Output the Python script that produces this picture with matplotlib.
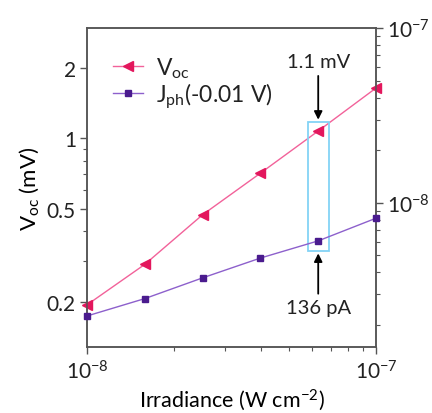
import numpy as np
import matplotlib as mpl
import matplotlib.pyplot as plt
from matplotlib.patches import Rectangle
from matplotlib.ticker import FixedLocator, NullFormatter, LogLocator
mpl.use('Agg')

plt.rcParams['font.family'] = ['Lato', 'DejaVu Sans']
plt.rcParams['mathtext.fontset'] = 'custom'
plt.rcParams['mathtext.rm'] = 'Lato'
plt.rcParams['mathtext.it'] = 'Lato:italic'
plt.rcParams['mathtext.default'] = 'regular'
plt.rcParams['font.size'] = 13
plt.rcParams['text.color'] = '#222222'

# data
irradiance = [1.0e-8, 1.585e-8, 2.512e-8, 3.981e-8, 6.310e-8, 1.0e-7]
voc_mv = [0.194, 0.289, 0.471, 0.709, 1.074, 1.639]
jph = [2.25e-9, 2.83e-9, 3.72e-9, 4.83e-9, 6.06e-9, 8.17e-9]
voc_ticks = [0.2, 0.5, 1, 2]
voc_tick_labels = ['0.2', '0.5', '1', '2']

pink_line = '#f2629a'
pink_mark = '#e3175d'
purple_line = '#8d60cc'
purple_mark = '#4a1b8e'
spine_col = '#555555'

fig = plt.figure(figsize=(4.32, 4.14), dpi=100)
ax = fig.add_axes([0.2014, 0.1601, 0.669, 0.7691])
ax2 = ax.twinx()

l1, = ax.plot(irradiance, voc_mv, color=pink_line, lw=1.0, marker='<',
              ms=7, mfc=pink_mark, mec=pink_mark, clip_on=False, zorder=4)
l2, = ax2.plot(irradiance, jph, color=purple_line, lw=1.0, marker='s',
               ms=5, mfc=purple_mark, mec=purple_mark, clip_on=False, zorder=4)

ax.set_xscale('log')
ax.set_yscale('log')
ax2.set_yscale('log')
ax.set_xlim(1e-8, 1e-7)
ax.set_ylim(0.1285, 2.95)
ax2.set_ylim(1.5e-9, 1e-7)

ax.yaxis.set_major_locator(FixedLocator(voc_ticks))
ax.set_yticklabels(voc_tick_labels)
ax.yaxis.set_minor_locator(FixedLocator([0.3, 0.4, 0.6, 0.7, 0.8, 0.9]))
ax.yaxis.set_minor_formatter(NullFormatter())

ax.xaxis.set_major_locator(FixedLocator([1e-8, 1e-7]))
ax.xaxis.set_minor_locator(LogLocator(base=10, subs=np.arange(2, 10)))
ax.xaxis.set_minor_formatter(NullFormatter())
ax.set_xticklabels([r'$10^{-8}$', r'$10^{-7}$'])

ax2.yaxis.set_major_locator(FixedLocator([1e-8, 1e-7]))
ax2.set_yticklabels([r'$10^{-8}$', r'$10^{-7}$'])
ax2.yaxis.set_minor_locator(LogLocator(base=10, subs=np.arange(2, 10)))
ax2.yaxis.set_minor_formatter(NullFormatter())

for a in (ax, ax2):
    for s in a.spines.values():
        s.set_color(spine_col)
        s.set_linewidth(1.1)
    a.tick_params(which='major', length=5, width=1, color=spine_col,
                  labelcolor='#222222', labelsize=15, pad=3)
    a.tick_params(which='minor', length=3, width=0.8, color=spine_col)
ax.tick_params(axis='x', which='major', pad=4)

ax.set_xlabel(r'Irradiance (W cm$^{-2}$)', fontsize=15.5, labelpad=3)
ax.set_ylabel(r'V$_{oc}$ (mV)', fontsize=16, labelpad=4)

ax.legend([l1, l2], [r'V$_{oc}$', r'J$_{ph}$(-0.01 V)'], loc='upper left',
          frameon=False, fontsize=16.5, handlelength=1.3, handletextpad=0.55,
          labelspacing=0.0, borderaxespad=0.3, bbox_to_anchor=(0.035, 0.965))

# highlight box around the 6.3e-8 point
ax.add_patch(Rectangle((5.80e-8, 0.3296), 6.87e-8 - 5.80e-8, 1.177 - 0.3296,
                       fill=False, ec='#84d3f6', lw=1.3, zorder=5))

ax.annotate('1.1 mV', xy=(6.31e-8, 1.20), xytext=(6.31e-8, 1.95),
            ha='center', va='bottom', fontsize=14.5,
            arrowprops=dict(arrowstyle='-|>', color='black', lw=1.3,
                            mutation_scale=12, shrinkA=2, shrinkB=0))
ax.annotate('136 pA', xy=(6.31e-8, 0.322), xytext=(6.31e-8, 0.205),
            ha='center', va='top', fontsize=14.5,
            arrowprops=dict(arrowstyle='-|>', color='black', lw=1.3,
                            mutation_scale=12, shrinkA=2, shrinkB=0))

fig.savefig('out.png', dpi=100)
